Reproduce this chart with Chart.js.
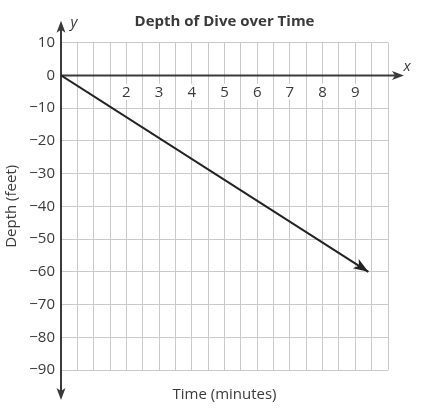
<!DOCTYPE html>
<html>
<head>
<meta charset="utf-8">
<script src="https://cdn.jsdelivr.net/npm/chart.js@4"></script>
<style>
  html, body { margin: 0; padding: 0; background: #fff; }
  #wrap { width: 421px; height: 415px; }
</style>
</head>
<body>
<div id="wrap"><canvas id="dive-chart"></canvas></div>
<script>
// chart data
const timeMinutes = [0, 9.4];
const depthFeet = [0, -60];
const xTickLabels = [2, 3, 4, 5, 6, 7, 8, 9];
const xRange = [0, 10];
const yRange = [-90, 10];

const inkColor = '#3a3a3a';
const gridColor = '#c9c9c9';
const fontFamily = '"Open Sans", "Noto Sans", sans-serif';

function drawArrowHead(ctx, tipX, tipY, angle, len, half) {
    ctx.save();
    ctx.translate(tipX, tipY);
    ctx.rotate(angle);
    ctx.beginPath();
    ctx.moveTo(0, 0);
    ctx.lineTo(-len, -half);
    ctx.lineTo(-len * 0.75, 0);
    ctx.lineTo(-len, half);
    ctx.closePath();
    ctx.fill();
    ctx.restore();
}

// axes with arrows, x labels on the grid, and the arrow on the line
const gridAxes = {
    id: 'gridAxes',
    beforeDatasetsDraw(chart) {
        const { ctx, chartArea, scales } = chart;
        const x0 = scales.x.getPixelForValue(0);
        const y0 = scales.y.getPixelForValue(0);
        ctx.save();

        // x labels sit on the -5 line with a white box behind
        ctx.font = '15px ' + fontFamily;
        ctx.textAlign = 'center';
        ctx.textBaseline = 'middle';
        const labelY = scales.y.getPixelForValue(-5);
        xTickLabels.forEach(v => {
            const px = scales.x.getPixelForValue(v);
            ctx.fillStyle = '#fff';
            ctx.fillRect(px - 6, labelY - 8, 12, 16);
            ctx.fillStyle = inkColor;
            ctx.fillText(String(v), px, labelY + 1);
        });

        ctx.strokeStyle = inkColor;
        ctx.fillStyle = inkColor;
        ctx.lineWidth = 2;

        // x axis
        const xEnd = chartArea.right + 16;
        ctx.beginPath();
        ctx.moveTo(x0, y0);
        ctx.lineTo(xEnd - 4, y0);
        ctx.stroke();
        drawArrowHead(ctx, xEnd, y0, 0, 12, 4.5);

        // y axis
        const yTop = chartArea.top - 22;
        const yBottom = chartArea.bottom + 30;
        ctx.beginPath();
        ctx.moveTo(x0, yTop + 4);
        ctx.lineTo(x0, yBottom - 4);
        ctx.stroke();
        drawArrowHead(ctx, x0, yTop, -Math.PI / 2, 12, 4.5);
        drawArrowHead(ctx, x0, yBottom, Math.PI / 2, 12, 4.5);

        ctx.font = 'italic 15px ' + fontFamily;
        ctx.fillText('y', x0 + 13, yTop + 2);
        ctx.fillText('x', xEnd + 3, y0 - 9);
        ctx.restore();
    },
    afterDatasetsDraw(chart) {
        const { ctx } = chart;
        const pts = chart.getDatasetMeta(0).data;
        const a = pts[pts.length - 2];
        const b = pts[pts.length - 1];
        const angle = Math.atan2(b.y - a.y, b.x - a.x);
        ctx.save();
        ctx.fillStyle = '#222';
        drawArrowHead(ctx, b.x, b.y, angle, 15, 5.5);
        ctx.restore();
    }
};

const ctx = document.getElementById('dive-chart').getContext('2d');
new Chart(ctx, {
    type: 'scatter',
    data: {
        datasets: [{
            data: timeMinutes.map((t, i) => ({ x: t, y: depthFeet[i] })),
            showLine: true,
            borderColor: '#222',
            borderWidth: 2,
            pointRadius: 0,
            pointHoverRadius: 0
        }]
    },
    options: {
        responsive: true,
        maintainAspectRatio: false,
        animation: false,
        layout: { padding: { left: 0, right: 33, top: 0, bottom: 0 } },
        plugins: {
            legend: { display: false },
            tooltip: { enabled: false },
            title: {
                display: true,
                text: 'Depth of Dive over Time',
                fullSize: false,
                color: inkColor,
                font: { family: fontFamily, size: 15, weight: 'bold' },
                padding: { top: 13, bottom: 11.7 }
            }
        },
        scales: {
            x: {
                type: 'linear',
                min: xRange[0],
                max: xRange[1],
                ticks: { stepSize: 0.5, display: false },
                grid: { color: gridColor, lineWidth: 1, drawTicks: false },
                border: { display: false },
                title: {
                    display: true,
                    text: 'Time (minutes)',
                    color: inkColor,
                    font: { family: fontFamily, size: 15 },
                    padding: { top: 0, bottom: 11 }
                },
                afterFit(scale) { scale.height = 45; }
            },
            y: {
                type: 'linear',
                min: yRange[0],
                max: yRange[1],
                ticks: {
                    stepSize: 5,
                    padding: 6,
                    color: inkColor,
                    font: { family: fontFamily, size: 15 },
                    callback: v => (v % 10 === 0 ? String(v).replace('-', '\u2212') : '')
                },
                grid: { color: gridColor, lineWidth: 1, drawTicks: false },
                border: { display: false },
                title: {
                    display: true,
                    text: 'Depth (feet)',
                    color: inkColor,
                    font: { family: fontFamily, size: 15 },
                    padding: { top: 3, bottom: 0 }
                },
                afterFit(scale) { scale.width = 61; }
            }
        }
    },
    plugins: [gridAxes]
});
</script>
</body>
</html>
